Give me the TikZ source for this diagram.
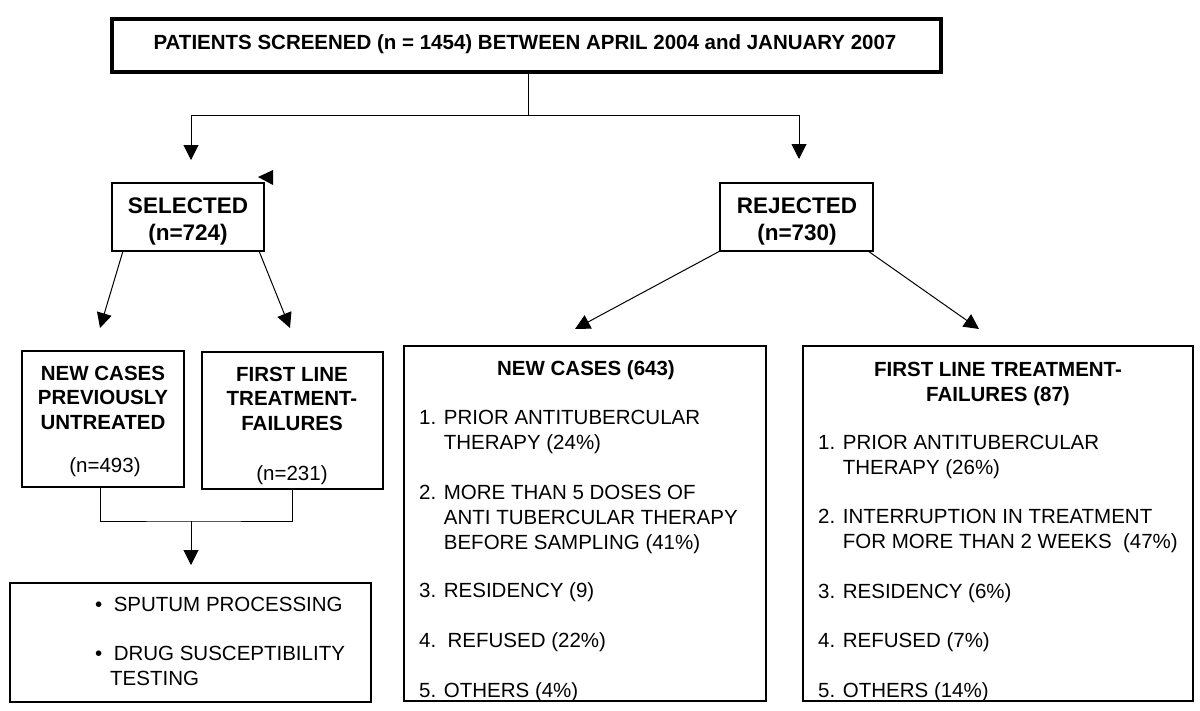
\documentclass[tikz,border=0pt]{standalone}
\usepackage{fontspec}
\setmainfont{Liberation Sans}
\usetikzlibrary{arrows.meta}
\begin{document}
\begin{tikzpicture}[x=1pt,y=-1pt,
  frame/.style={draw, line width=1.1pt, rectangle, inner sep=0pt, outer sep=0pt},
  arr/.style={line width=1pt, -{Triangle[width=15pt,length=15pt]}},
  conn/.style={line width=1pt},
  hdr/.style={inner sep=0pt, font=\bfseries\fontsize{20.5}{24.5}\selectfont, align=center, anchor=base},
  big/.style={inner sep=0pt, font=\bfseries\fontsize{22.5}{27}\selectfont, align=center, anchor=base},
  txt/.style={inner sep=0pt, font=\fontsize{20.5}{25}\selectfont, align=left, anchor=base west},
  txtc/.style={inner sep=0pt, font=\fontsize{20.5}{25}\selectfont, anchor=base}
]
\useasboundingbox (0,0) rectangle (1200,710);

% boxes
\node[frame, line width=3.2pt, minimum width=829pt, minimum height=53pt] (top) at (526.5,45.5) {};
\node[frame, minimum width=152pt, minimum height=68pt] (sel) at (188,217) {};
\node[frame, minimum width=153pt, minimum height=68pt] (rej) at (796.5,217) {};
\node[frame, minimum width=162pt, minimum height=136pt] (nc) at (103,419) {};
\node[frame, minimum width=181pt, minimum height=137pt] (fl) at (292.5,420.5) {};
\node[frame, minimum width=361pt, minimum height=119pt] (proc) at (190.5,642.5) {};
\node[frame, minimum width=362pt, minimum height=355pt] (rnc) at (585,523.5) {};
\node[frame, minimum width=390pt, minimum height=355pt] (rfl) at (998,523.5) {};

% texts (base anchor = baseline of the last line)
\node[hdr, font=\bfseries\fontsize{20.5}{25}\selectfont] (ttl) at (525,49) {PATIENTS SCREENED (n = 1454) BETWEEN APRIL 2004 and JANUARY 2007};
\node[big] (selt) at (188,240) {SELECTED\\(n=724)};
\node[big] (rejt) at (797,240) {REJECTED\\(n=730)};
\node[hdr] (nct) at (103,429) {NEW CASES\\PREVIOUSLY\\UNTREATED};
\node[txtc] (ncn) at (105,472) {(n=493)};
\node[hdr] (flt) at (292,430) {FIRST LINE\\TREATMENT-\\FAILURES};
\node[txtc] (fln) at (292,480) {(n=231)};

\node[txt] (p1) at (95,611) {\textbullet\ \ SPUTUM PROCESSING};
\node[txt] (p2) at (95,660) {\textbullet\ \ DRUG SUSCEPTIBILITY};
\node[txt] (p3) at (110,685) {TESTING};

\node[hdr] (rnct) at (586,375) {NEW CASES (643)};
\node[txt] (a1) at (419,449) {1. PRIOR ANTITUBERCULAR\\\hphantom{1. }THERAPY (24\%)};
\node[txt] (a2) at (419,549) {2. MORE THAN 5 DOSES OF\\\hphantom{2. }ANTI TUBERCULAR THERAPY\\\hphantom{2. }BEFORE SAMPLING (41\%)};
\node[txt] (a3) at (419,597) {3. RESIDENCY (9)};
\node[txt] (a4) at (419,647) {4.\ \ REFUSED (22\%)};
\node[txt] (a5) at (419,697) {5. OTHERS (4\%)};

\node[hdr] (rflt) at (998,401) {FIRST LINE TREATMENT-\\FAILURES (87)};
\node[txt] (b1) at (818,474) {1. PRIOR ANTITUBERCULAR\\\hphantom{1. }THERAPY (26\%)};
\node[txt] (b2) at (818,548) {2. INTERRUPTION IN TREATMENT\\\hphantom{2. }FOR MORE THAN 2 WEEKS\ \ (47\%)};
\node[txt] (b3) at (818,598) {3. RESIDENCY (6\%)};
\node[txt] (b4) at (818,647) {4. REFUSED (7\%)};
\node[txt] (b5) at (818,697) {5. OTHERS (14\%)};

% connector coordinates
\coordinate (split) at (528,115);
\coordinate (selin) at (191,160);
\coordinate (rejin) at (799,159);
\coordinate (ncin) at (100,328);
\coordinate (flin) at (290,328);
\coordinate (rncin) at (575,329);
\coordinate (rflin) at (979,329);
\coordinate (merge) at (191,521);
\coordinate (procin) at (191,565);

\draw[conn] ([xshift=1.5pt]top.south) -- (split);
\draw[arr] (split) -| (selin);
\draw[arr] (split) -| (rejin);
\draw[arr] ([xshift=11pt]sel.south west) -- (ncin);
\draw[arr] ([xshift=-5pt]sel.south east) -- (flin);
\draw[arr] (rej.south west) -- (rncin);
\draw[arr] ([xshift=-5pt]rej.south east) -- (rflin);
\draw[conn] ([xshift=-3pt]nc.south) |- (merge) -| (fl.south);
\draw[arr] (merge) -- (procin);

% stray arrowhead
\fill (258,177) -- (273,170) -- (273,185) -- cycle;
\end{tikzpicture}
\end{document}
